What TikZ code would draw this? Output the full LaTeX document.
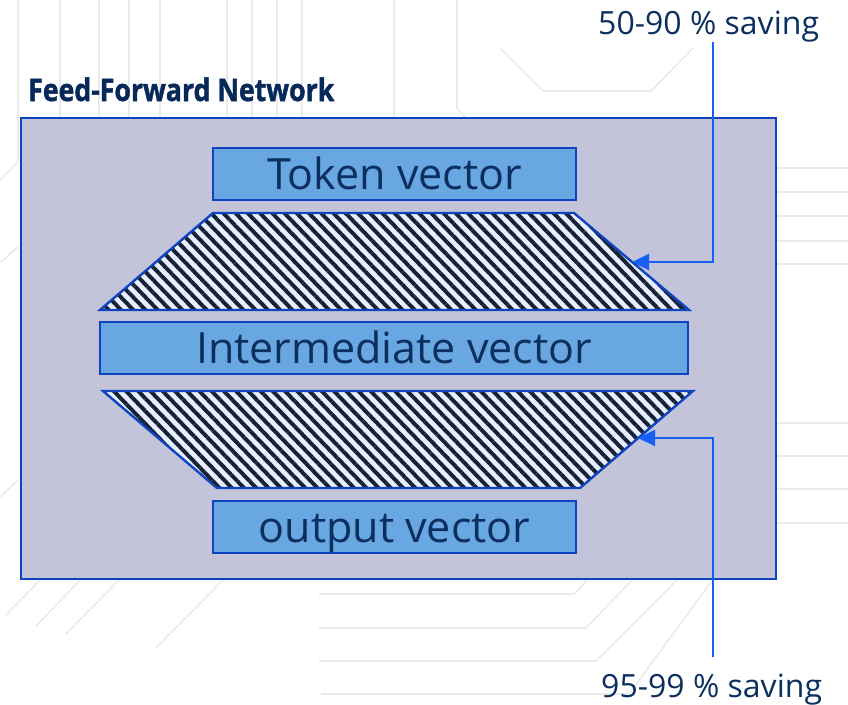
\documentclass[tikz,border=0pt]{standalone}
\usepackage{fontspec}
\setmainfont{Open Sans}
\newfontfamily\headfont[BoldFeatures={FakeBold=1.6}]{Open Sans}
\usetikzlibrary{arrows.meta,patterns.meta}

\definecolor{ink}{HTML}{0B2F5E}
\definecolor{headink}{HTML}{06295A}
\definecolor{panel}{HTML}{C3C3DA}
\definecolor{edge}{HTML}{0F44BE}
\definecolor{cell}{HTML}{69A7E3}
\definecolor{pointer}{HTML}{1660F5}
\definecolor{trace}{HTML}{EAEAEA}
\definecolor{hatchbg}{HTML}{E6EEFF}
\definecolor{hatchfg}{HTML}{162234}

\tikzset{
  trace/.style={draw=trace, line width=1.6pt},
  vecbox/.style={draw=edge, line width=2.3pt, fill=cell, text=ink,
    font=\fontsize{43}{43}\selectfont, inner sep=0pt,
    text height=30pt, text depth=0pt, minimum height=52pt},
  funnel/.style={draw=edge, line width=2.4pt, line join=miter,
    preaction={fill=hatchbg},
    pattern={Lines[angle=-46,distance=8.8pt,line width=3.9pt]},
    pattern color=hatchfg},
  saving/.style={text=ink, font=\fontsize{32}{32}\selectfont, inner sep=0pt},
  pointerline/.style={draw=pointer, line width=2.2pt,
    -{Triangle[length=17pt,width=16pt]}},
}

\begin{document}
\begin{tikzpicture}[x=1pt,y=-1pt]
\useasboundingbox (0,0) rectangle (848,704);

% faint circuit traces in the background
\foreach \xx in {60,99,129,160,227,252,277,302,394}
  \draw[trace] (\xx,0) -- (\xx,118);
\draw[trace] (18,0) -- (18,162) -- (0,180);
\draw[trace] (457,0) -- (457,108) -- (466,118);
\draw[trace] (500,48) -- (543,91) -- (651,91) -- (693,48);
\draw[trace] (0,263) -- (18,247);
\draw[trace] (0,497) -- (18,480);
\foreach \yy in {168,192,216,241,264,423,456,489,523}
  \draw[trace] (776,\yy) -- (848,\yy);
\draw[trace] (40,580) -- (5,616);
\draw[trace] (80,580) -- (36,626);
\draw[trace] (119,580) -- (66,634);
\draw[trace] (223,580) -- (156,648);
\draw[trace] (319,594) -- (574,594) -- (587,580);
\draw[trace] (319,628) -- (586,628) -- (632,580);
\draw[trace] (319,661) -- (596,661) -- (677,580);
\draw[trace] (321,694) -- (629,694) -- (711,582);

% title and outer panel
\node[anchor=base west, inner sep=0pt, text=headink,
      font=\headfont\fontsize{31}{31}\selectfont\bfseries] (title) at (28,101)
  {\scalebox{0.86}[1]{Feed-Forward Network}};
\node[draw=edge, line width=2.8pt, fill=panel, inner sep=0pt,
      minimum width=755pt, minimum height=461pt] (ffn) at (398.5,348.5) {};

% vector boxes
\node[vecbox, minimum width=363pt] (tok) at (394.5,174) {Token vector};
\node[vecbox, minimum width=588pt] (mid) at (394,348) {Intermediate vector};
\node[vecbox, minimum width=363pt] (out) at (394.5,527) {output vector};

% hatched projection layers
\draw[funnel] (213,213) -- (574,213) -- (689,310) -- (100,310) -- cycle;
\draw[funnel] (103,391) -- (693,391) -- (580,488) -- (217,488) -- cycle;

% saving callouts
\node[saving, anchor=base west] (sav1) at (598,34) {50-90 \% saving};
\node[saving, anchor=base west] (sav2) at (601,697) {95-99 \% saving};

\coordinate (knee1) at (713,262);
\coordinate (tip1) at (632,262);
\coordinate (knee2) at (713,438);
\coordinate (tip2) at (638,438);

\draw[pointerline] (sav1.south -| knee1) -- (knee1) -- (tip1);
\draw[pointerline] ([yshift=16pt]sav2.north -| knee2) -- (knee2) -- (tip2);
\end{tikzpicture}
\end{document}
